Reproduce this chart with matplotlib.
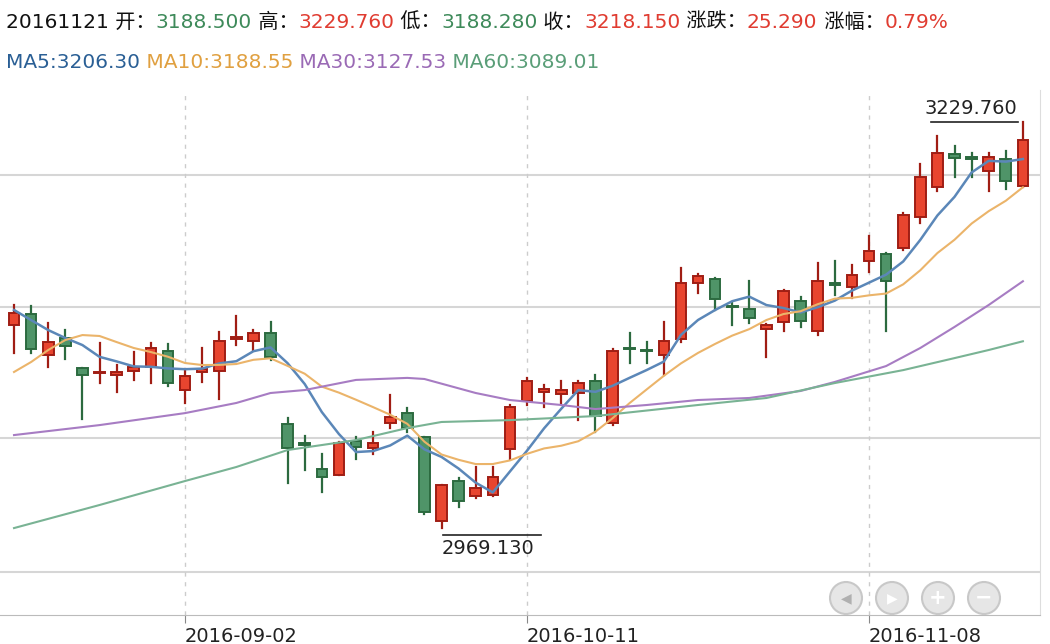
import matplotlib
matplotlib.use("Agg")
import matplotlib.pyplot as plt
import numpy as np
from matplotlib.patches import Rectangle, Ellipse

plt.rcParams['font.family'] = ['DejaVu Sans', 'Noto Sans CJK SC']

dates_ticks = ["2016-09-02", "2016-10-11", "2016-11-08"]
tick_idx = [10, 30, 50]

opens = [3099.4,3106.5,3080.2,3091.1,3071.8,3068.6,3067.3,3069.9,3072.5,3082.8,
         3057.7,3069.3,3069.9,3090.4,3089.2,3094.3,3035.9,3023.7,3007.0,3003.1,
         3025.0,3020.5,3036.6,3043.0,3027.6,2973.6,2999.3,2990.0,2990.6,3019.8,
         3050.6,3056.4,3055.1,3055.8,3063.5,3036.6,3084.7,3083.4,3080.2,3090.4,
         3126.4,3128.9,3111.6,3109.7,3096.9,3101.4,3114.8,3095.6,3126.4,3123.8,
         3140.5,3145.0,3148.9,3168.7,3188.0,3209.2,3207.3,3198.3,3206.0,3188.50]
highs = [3112.3,3111.6,3100.7,3096.2,3071.8,3087.9,3073.8,3082.1,3087.9,3087.2,
         3071.2,3084.7,3094.9,3105.2,3096.2,3101.4,3039.7,3028.2,3016.6,3024.3,
         3027.6,3030.8,3054.4,3046.2,3027.6,2996.7,3001.2,3008.1,3008.1,3048.1,
         3065.5,3060.9,3063.5,3063.5,3067.3,3084.0,3094.3,3088.5,3101.4,3136.0,
         3132.2,3129.6,3113.5,3127.7,3100.1,3121.9,3117.4,3139.2,3140.5,3137.9,
         3156.4,3145.6,3171.3,3202.7,3220.8,3214.3,3209.8,3209.8,3211.1,3229.76]
lows = [3081.5,3081.5,3072.5,3077.6,3039.1,3062.2,3056.4,3064.2,3062.2,3060.3,
        3049.4,3062.9,3052.0,3086.6,3083.4,3077.0,2998.0,3006.3,2992.2,3003.1,
        3013.2,3016.4,3033.3,3030.8,2978.4,2969.13,2982.6,2988.7,2990.0,3013.2,
        3048.1,3046.8,3049.4,3038.4,3031.0,3035.3,3075.0,3075.0,3067.3,3088.5,
        3120.0,3109.0,3099.4,3100.7,3078.9,3095.6,3098.2,3093.0,3118.7,3116.8,
        3133.5,3095.6,3147.6,3164.9,3185.5,3194.4,3194.4,3185.5,3186.7,3188.28]
closes = [3107.1,3084.0,3088.5,3086.0,3067.3,3069.3,3069.3,3072.5,3084.7,3062.2,
          3066.7,3071.2,3089.2,3091.7,3094.3,3078.9,3020.5,3022.4,3001.8,3023.7,
          3021.1,3023.7,3040.4,3033.3,2979.7,2996.7,2986.4,2995.1,3002.0,3046.8,
          3063.5,3058.3,3057.7,3062.2,3041.0,3082.8,3084.0,3082.8,3089.2,3126.4,
          3130.9,3116.1,3111.0,3103.9,3099.4,3121.3,3102.0,3127.7,3125.1,3131.5,
          3146.9,3127.7,3170.0,3194.4,3209.8,3206.6,3206.0,3207.3,3191.9,3218.15]

ma5_start = [3109.1, 3102.6, 3096.2, 3091.1]
ma10_start = [3069.3, 3075.7, 3083.4, 3089.8, 3093.0, 3092.4, 3088.5, 3084.7, 3082.1]
ma30_idx = [0,5,10,13,15,17,20,23,24,27,29,32,34,37,40,43,46,48,51,53,55,57,59]
ma30_val = [3028.8,3035.2,3042.9,3049.4,3055.8,3057.7,3064.2,3065.5,3064.8,3055.8,3051.3,
            3048.1,3045.5,3048.1,3051.3,3052.6,3057.1,3062.9,3073.1,3084.7,3098.2,3112.3,3127.53]
ma60_idx = [0,5,10,13,16,20,23,25,29,34,40,44,48,52,55,57,59]
ma60_val = [2969.1,2983.9,2999.3,3008.3,3019.2,3025.6,3033.3,3037.2,3038.4,3041.0,3048.1,
            3052.6,3062.2,3070.5,3078.2,3083.4,3089.01]
grid_levels = [3195.7, 3111.0, 3026.9, 2940.8]

c = np.array(closes)
n = len(c)
ma5 = np.array(ma5_start + [c[i-4:i+1].mean() for i in range(4, n)])
ma10 = np.array(ma10_start + [c[i-9:i+1].mean() for i in range(9, n)])

RED, RED_E = "#e8452f", "#a01d14"
GRN, GRN_E = "#4f9468", "#2c6a3f"
C_MA5, C_MA10, C_MA30, C_MA60 = "#5b87b8", "#ebb46a", "#a77cc3", "#79b394"

fig = plt.figure(figsize=(10.5, 6.44), dpi=100)
ax = fig.add_axes([0, 29/644, 1040/1050, 525/644])
ax.set_xlim(-0.82, 60)
ax.set_ylim(2913.3, 3250.3)

for g in grid_levels:
    ax.axhline(g, color="#d6d6d6", lw=1.5, zorder=0)
for t in tick_idx:
    ax.axvline(t, color="#cccccc", lw=1, ls=(0, (3, 4)), zorder=0)

w = 0.62
for i in range(n):
    o, h, l, cl = opens[i], highs[i], lows[i], closes[i]
    up = cl >= o
    fc, ec = (RED, RED_E) if up else (GRN, GRN_E)
    ax.plot([i, i], [l, h], color=ec, lw=1.6, zorder=2)
    bot = min(o, cl)
    hh = max(abs(cl - o), 0.6)
    ax.add_patch(Rectangle((i - w/2, bot), w, hh, facecolor=fc, edgecolor=ec, lw=1.4, zorder=3))

x = np.arange(n)
ax.plot(x, ma5, color=C_MA5, lw=1.8, zorder=4)
ax.plot(x, ma10, color=C_MA10, lw=1.5, zorder=4)
ax.plot(ma30_idx, ma30_val, color=C_MA30, lw=1.5, zorder=4)
ax.plot(ma60_idx, ma60_val, color=C_MA60, lw=1.5, zorder=4)

hi_i = int(np.argmax(highs)); lo_i = int(np.argmin(lows))
ax.annotate(f"{highs[hi_i]:.3f}", (hi_i, highs[hi_i]), xytext=(-4, 3), textcoords="offset points",
            ha="right", va="bottom", fontsize=14, color="#222222")
ax.plot([hi_i - 5.4, hi_i - 0.3], [highs[hi_i], highs[hi_i]], color="#222222", lw=1.2, clip_on=False)
ax.annotate(f"{lows[lo_i]:.3f}", (lo_i, lows[lo_i]), xytext=(0, -8), textcoords="offset points",
            ha="left", va="top", fontsize=14, color="#222222")
ax.plot([lo_i + 0.1, lo_i + 5.8], [lows[lo_i] - 4.5, lows[lo_i] - 4.5], color="#222222", lw=1.2, clip_on=False)

ax.set_xticks(tick_idx)
ax.set_xticklabels(dates_ticks, fontsize=14, color="#222222", ha="left")
ax.tick_params(axis="x", length=6, color="#888888", pad=3)
ax.set_yticks([])
for s in ["top", "left"]:
    ax.spines[s].set_visible(False)
ax.spines["bottom"].set_color("#bbbbbb")
ax.spines["right"].set_color("#dddddd")

for k, (cx, sym) in enumerate([(846, "◀"), (892, "▶"), (938, "+"), (984, "−")]):
    e = Ellipse((cx/1050, 1 - 598/644), 32/1050, 32/644, transform=fig.transFigure,
                facecolor="#e6e6e6", edgecolor="#c8c8c8", lw=1.5)
    fig.patches.append(e)
    fig.text(cx/1050, 1 - 598/644, sym, ha="center", va="center", fontsize=15 if k > 1 else 10,
             color="#ffffff" if k > 0 else "#b0b0b0", weight="bold")

fig.canvas.draw()
r = fig.canvas.get_renderer()
def line(pieces, y):
    xpx = 6
    for txt, col in pieces:
        t = fig.text(xpx/1050, 1 - y/644, txt, color=col, fontsize=14.5, va="center", ha="left")
        bb = t.get_window_extent(renderer=r)
        xpx += bb.width
K, G, R = "#111111", "#3e8a5a", "#e03c31"
line([("20161121 开：", K), ("3188.500", G), (" 高：", K), ("3229.760", R), (" 低：", K),
      ("3188.280", G), (" 收：", K), ("3218.150", R), (" 涨跌：", K), ("25.290", R),
      (" 涨幅：", K), ("0.79%", R)], 22)
line([("MA5:3206.30", "#2a5f95"), (" MA10:3188.55", "#e0a040"),
      (" MA30:3127.53", "#9a6ab5"), (" MA60:3089.01", "#5a9e78")], 62)

fig.savefig("out.png", dpi=100)
